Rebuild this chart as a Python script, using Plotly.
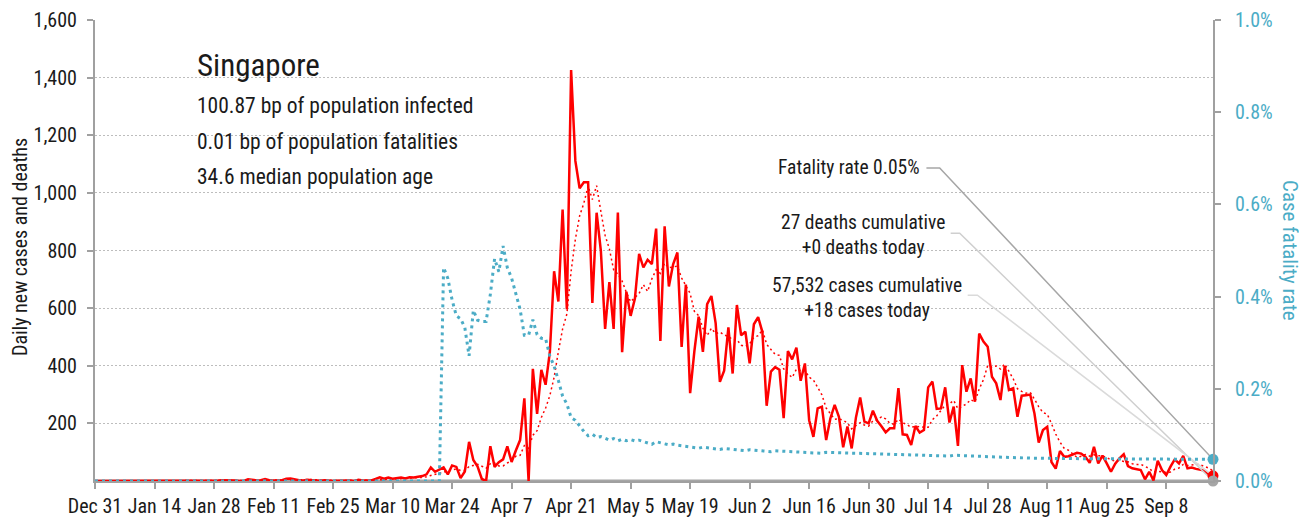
import numpy as np
import pandas as pd
import plotly.graph_objects as go

# ---------------- data ----------------
start_date = "2019-12-31"
end_date = "2020-09-19"

cases_dec = [0]
cases_jan = [0, 0, 0, 0, 0, 0, 0, 0, 0, 0, 0, 0, 0, 0, 0, 0, 0, 0, 0, 0, 0, 0, 0,
             1, 2, 0, 1, 1, 2, 3, 3]
cases_feb = [3, 2, 0, 0, 6, 4, 2, 3, 7, 3, 2, 2, 3, 8, 9, 5, 3, 2, 4, 3,
             1, 1, 3, 1, 0, 1, 2, 3, 2]
cases_mar = [0, 4, 2, 2, 2, 7, 13, 8, 12, 8, 10, 12, 9, 13, 12, 14, 17, 23, 47, 32,
             40, 47, 23, 54, 49, 10, 33, 136, 73, 50, 7]
cases_apr = [0, 121, 49, 65, 75, 120, 66, 106, 142, 287, 0, 389, 233, 386, 334, 447,
             728, 623, 942, 596, 1426, 1111, 1016, 1037, 1037, 618, 931, 799, 528, 690]
cases_may = [528, 932, 447, 657, 573, 632, 788, 741, 768, 753, 876, 486, 884, 675, 752,
             793, 465, 682, 305, 451, 570, 448, 614, 642, 548, 344, 383, 533, 373, 611, 506]
cases_jun = [518, 408, 544, 569, 517, 261, 380, 395, 386, 218, 451, 422, 463, 348, 408,
             211, 153, 252, 258, 142, 218, 264, 223, 117, 189, 113, 220, 290, 206, 200]
cases_jul = [244, 209, 190, 169, 183, 183, 322, 162, 160, 125, 191, 168, 177, 325, 345,
             250, 252, 325, 203, 258, 122, 402, 310, 356, 275, 512, 484, 466, 362, 339, 281]
cases_aug = [399, 316, 322, 223, 296, 298, 300, 234, 133, 177, 188, 66, 43, 104, 84,
             86, 93, 98, 95, 84, 63, 119, 61, 88, 61, 32, 60, 79, 93, 52, 44]
cases_sep = [40, 38, 6, 32, 2, 70, 38, 21, 50, 75, 61, 87, 44, 47, 42, 38, 36, 20, 18]

death_dates = ["2020-03-22", "2020-03-29", "2020-04-02", "2020-04-03", "2020-04-05",
               "2020-04-12", "2020-04-14", "2020-04-15", "2020-04-17", "2020-04-22",
               "2020-04-26", "2020-04-28", "2020-05-01", "2020-05-03", "2020-05-05",
               "2020-05-07", "2020-05-11", "2020-05-15", "2020-05-22", "2020-05-27",
               "2020-06-02", "2020-06-08", "2020-06-20", "2020-07-20"]
death_counts = [2, 1, 1, 1, 1, 2, 1, 1, 1, 1, 1, 1, 1, 1, 1, 1, 2, 1, 1, 1, 1, 1, 1, 1]

x_tick_step_days = 14
y_left_ticks = [200, 400, 600, 800, 1000, 1200, 1400, 1600]
y_right_ticks = [0.0, 0.2, 0.4, 0.6, 0.8, 1.0]

title_text = "Singapore"
info_lines = ["100.87 bp of population infected",
              "0.01 bp of population fatalities",
              "34.6 median population age"]
fatality_label = "Fatality rate 0.05%"
deaths_label = "27 deaths cumulative<br>+0 deaths today"
cases_label = "57,532 cases cumulative<br>+18 cases today"

# ---------------- derived series ----------------
dates = pd.date_range(start_date, end_date, freq="D")
cases = np.array(cases_dec + cases_jan + cases_feb + cases_mar + cases_apr + cases_may
                 + cases_jun + cases_jul + cases_aug + cases_sep, dtype=float)
deaths = np.zeros(len(dates))
for d, c in zip(death_dates, death_counts):
    deaths[dates.get_loc(pd.Timestamp(d))] += c

avg7 = pd.Series(cases).rolling(7, min_periods=1).mean().values
cum_cases = np.cumsum(cases)
cum_deaths = np.cumsum(deaths)
cfr = np.where(cum_cases > 0, cum_deaths / np.maximum(cum_cases, 1) * 100.0, 0.0)

# ---------------- style ----------------
FONT = "Roboto Condensed, Liberation Sans Narrow, DejaVu Sans Condensed, Arial Narrow, sans-serif"
RED = "#FF0000"
TEAL = "#4BACC6"
GRAY = "#A6A6A6"
AXIS = "#A0A0A0"
TXT = "#1a1a1a"

fig = go.Figure()

fig.add_trace(go.Scatter(x=dates, y=deaths, mode="lines",
                         line=dict(color=GRAY, width=3), hoverinfo="skip"))
fig.add_trace(go.Scatter(x=dates, y=cases, mode="lines",
                         line=dict(color=RED, width=2.5), hoverinfo="skip"))
fig.add_trace(go.Scatter(x=dates, y=avg7, mode="lines",
                         line=dict(color=RED, width=1.5, dash="2px,3px"), hoverinfo="skip"))
fig.add_trace(go.Scatter(x=dates, y=cfr, mode="lines", yaxis="y2",
                         line=dict(color=TEAL, width=3, dash="3px,4px"), hoverinfo="skip"))

# leader lines (label position -> last data point)
last = dates[-1]
fig.add_trace(go.Scatter(x=["2020-07-13 14:00", "2020-07-16 17:00", last],
                         y=[0.679, 0.679, cfr[-1]], yaxis="y2", mode="lines",
                         line=dict(color="#A6A6A6", width=1.5), hoverinfo="skip"))
fig.add_trace(go.Scatter(x=["2020-07-19 07:00", "2020-07-21 10:00", last],
                         y=[860, 860, deaths[-1]], mode="lines",
                         line=dict(color="#CFCFCF", width=1.5), hoverinfo="skip"))
fig.add_trace(go.Scatter(x=["2020-07-23 07:00", "2020-07-25 14:00", last],
                         y=[645, 645, cases[-1]], mode="lines",
                         line=dict(color="#DADADA", width=1.5), hoverinfo="skip"))

# end markers
fig.add_trace(go.Scatter(x=[last], y=[cfr[-1]], yaxis="y2", mode="markers", cliponaxis=False,
                         marker=dict(color=TEAL, size=11), hoverinfo="skip"))
fig.add_trace(go.Scatter(x=[last], y=[cases[-1]], mode="markers", cliponaxis=False,
                         marker=dict(color=RED, size=11), hoverinfo="skip"))
fig.add_trace(go.Scatter(x=[last], y=[deaths[-1]], mode="markers", cliponaxis=False,
                         marker=dict(color=GRAY, size=11), hoverinfo="skip"))

annotations = [
    dict(text=title_text, x=0.0894, y=0.902, xref="paper", yref="paper",
         xanchor="left", yanchor="middle", showarrow=False, font=dict(size=31, color=TXT)),
]
for txt, yy in zip(info_lines, [0.8156, 0.7375, 0.6616]):
    annotations.append(dict(text=txt, x=0.0894, y=yy, xref="paper", yref="paper",
                            xanchor="left", yanchor="middle", showarrow=False,
                            font=dict(size=21.5, color=TXT)))
annotations += [
    dict(text=fatality_label, x=0.7388, y=0.679, xref="paper", yref="paper",
         xanchor="right", yanchor="middle", showarrow=False, font=dict(size=19.5, color=TXT)),
    dict(text=deaths_label, x=0.687, y=0.5336, xref="paper", yref="paper", align="center",
         xanchor="center", yanchor="middle", showarrow=False, font=dict(size=19.5, color=TXT)),
    dict(text=cases_label, x=0.6905, y=0.398, xref="paper", yref="paper", align="center",
         xanchor="center", yanchor="middle", showarrow=False, font=dict(size=19.5, color=TXT)),
    dict(text="Daily new cases and deaths", x=-0.0671, y=0.5076, xref="paper", yref="paper",
         xanchor="center", yanchor="middle", textangle=-90, showarrow=False,
         font=dict(size=20, color=TXT)),
    dict(text="Case fatality rate", x=1.0689, y=0.501, xref="paper", yref="paper",
         xanchor="center", yanchor="middle", textangle=90, showarrow=False,
         font=dict(size=21, color=TEAL)),
]

# the page body adds an 8px offset, so the figure is 8px smaller than the window
fig.update_layout(
    width=1299, height=514,
    margin=dict(l=87, r=94, t=12, b=41, autoexpand=False),
    paper_bgcolor="white", plot_bgcolor="white",
    showlegend=False,
    font=dict(family=FONT, size=19, color=TXT),
    xaxis=dict(type="date", range=[dates[0], dates[-1]], automargin=False,
               tick0=start_date, dtick=x_tick_step_days * 86400000,
               tickformat="%b %-d", ticks="outside", ticklen=6, tickcolor=AXIS, tickwidth=1.5,
               showline=True, linecolor=AXIS, linewidth=2, showgrid=False, zeroline=False,
               tickfont=dict(size=20, color=TXT)),
    yaxis=dict(range=[0, 1600], tickvals=y_left_ticks, automargin=False,
               ticktext=[f"{v:,}" for v in y_left_ticks],
               ticks="outside", ticklen=6, tickcolor=AXIS, tickwidth=1.5,
               showline=True, linecolor=AXIS, linewidth=2,
               showgrid=True, gridcolor="#BDBDBD", griddash="2px,2px", gridwidth=1,
               zeroline=False, ticklabelstandoff=6,
               tickfont=dict(size=20, color=TXT)),
    yaxis2=dict(range=[0, 1.0], overlaying="y", side="right", tickvals=y_right_ticks,
                automargin=False,
                ticktext=[f"{v:.1f}%" for v in y_right_ticks],
                ticks="outside", ticklen=6, tickcolor=AXIS, tickwidth=1.5,
                showline=True, linecolor=AXIS, linewidth=2,
                showgrid=False, zeroline=False, ticklabelstandoff=10,
                tickfont=dict(size=20, color=TEAL)),
    annotations=annotations,
)

fig.write_html("out.html")
